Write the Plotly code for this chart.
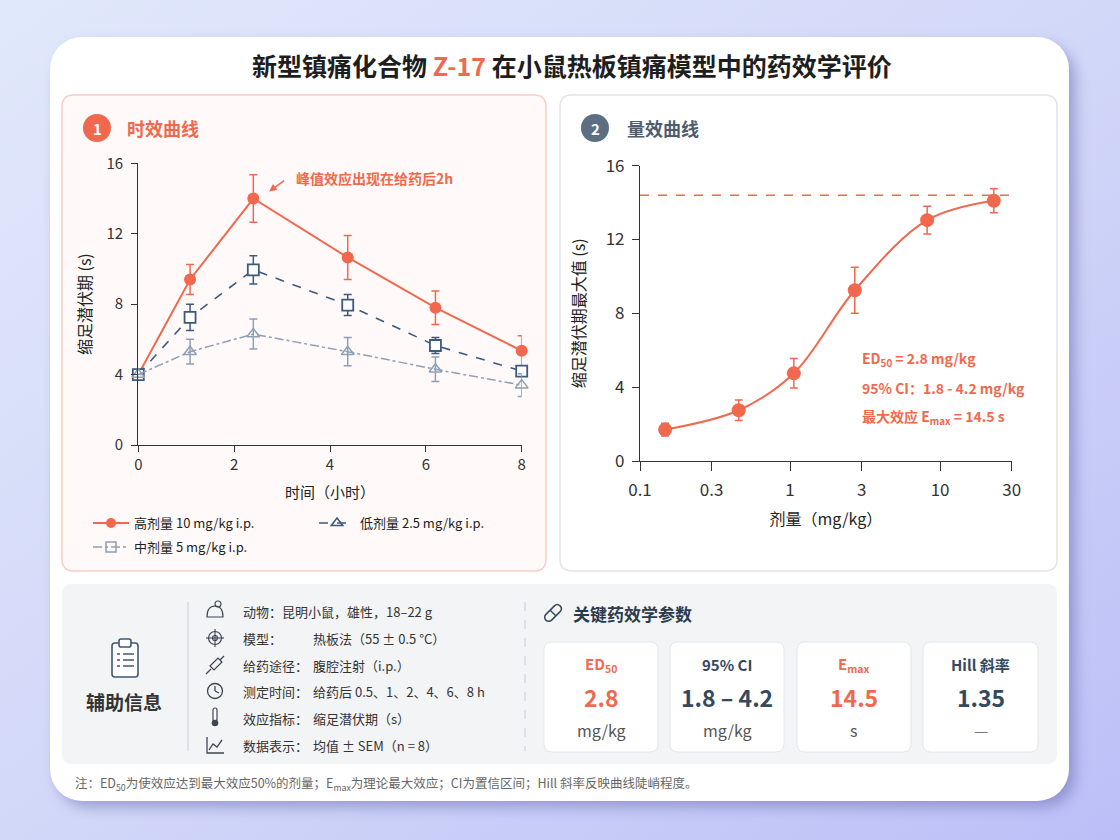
import base64
import plotly.graph_objects as go

W, H = 1120, 840
FONT = "Noto Sans CJK SC, Noto Sans, sans-serif"
RED = "#F0694F"
NAVY = "#3C5A80"
LIGHT = "#8EA0B4"
GREY_TXT = "#333333"

# ---------------- data ----------------
time_h = [0, 1.08, 2.4, 4.37, 6.2, 8]
high_mean = [4.0, 9.4, 14.0, 10.65, 7.8, 5.35]
high_sem = [0.0, 0.85, 1.35, 1.25, 0.95, 0.85]
mid_mean = [4.0, 7.25, 9.95, 7.95, 5.65, 4.2]
mid_sem = [0.0, 0.75, 0.8, 0.6, 0.45, 0.3]
low_mean = [4.0, 5.3, 6.3, 5.3, 4.3, 3.4]
low_sem = [0.0, 0.7, 0.85, 0.8, 0.7, 0.65]

dose = [0.147, 0.455, 1.06, 2.7, 8.2, 22.8]
resp_mean = [1.7, 2.75, 4.75, 9.25, 13.05, 14.1]
resp_sem = [0.35, 0.55, 0.8, 1.25, 0.75, 0.65]
emax_level = 14.4
emax_span = [0.1, 31]

time_ticks = [0, 2, 4, 6, 8]
time_minor = [1, 3, 5, 7]
lat_ticks = [0, 4, 8, 12, 16]
lat_minor = [2, 6, 10, 14]
dose_ticks = [0.1, 0.3, 1, 3, 10, 30]
dose_ticklabels = ["0.1", "0.3", "1", "3", "10", "30"]
dose_minor = [0.2, 0.4, 0.5, 0.6, 0.7, 0.8, 0.9, 2, 4, 5, 6, 7, 8, 9, 20]

legend_names = ["高剂量 10 mg/kg i.p.", "低剂量 2.5 mg/kg i.p.", "中剂量 5 mg/kg i.p."]

params = [
    ("ED<sub>50</sub>", "2.8", "mg/kg", RED),
    ("95% CI", "1.8 – 4.2", "mg/kg", "#34495E"),
    ("E<sub>max</sub>", "14.5", "s", RED),
    ("Hill 斜率", "1.35", "—", "#34495E"),
]
info_rows = [
    ("动物：昆明小鼠，雄性，18–22 g", None),
    ("模型：", "热板法（55 ± 0.5 °C）"),
    ("给药途径：", "腹腔注射（i.p.）"),
    ("测定时间：", "给药后 0.5、1、2、4、6、8 h"),
    ("效应指标：", "缩足潜伏期（s）"),
    ("数据表示：", "均值 ± SEM（n = 8）"),
]

# ---------------- helpers ----------------
def P(x, y):
    return f"{x / W:.5f},{1 - y / H:.5f}"

def rrpath(x0, y0, x1, y1, r):
    return (f"M{P(x0 + r, y0)} L{P(x1 - r, y0)} Q{P(x1, y0)} {P(x1, y0 + r)} "
            f"L{P(x1, y1 - r)} Q{P(x1, y1)} {P(x1 - r, y1)} L{P(x0 + r, y1)} "
            f"Q{P(x0, y1)} {P(x0, y1 - r)} L{P(x0, y0 + r)} Q{P(x0, y0)} {P(x0 + r, y0)} Z")

shapes = []
annotations = []

def add_rr(x0, y0, x1, y1, r, fill, line_color=None, lw=1.0, layer="below"):
    shapes.append(dict(type="path", path=rrpath(x0, y0, x1, y1, r), xref="paper", yref="paper",
                       fillcolor=fill, line=dict(color=line_color or fill, width=lw if line_color else 0),
                       layer=layer))

def add_circle(cx, cy, r, fill="rgba(0,0,0,0)", line_color=None, lw=1.3, layer="above"):
    shapes.append(dict(type="circle", xref="paper", yref="paper",
                       x0=(cx - r) / W, x1=(cx + r) / W, y0=1 - (cy + r) / H, y1=1 - (cy - r) / H,
                       fillcolor=fill, line=dict(color=line_color or fill, width=lw if line_color else 0),
                       layer=layer))

def add_line(x0, y0, x1, y1, color, lw=1.3, dash="solid", layer="above"):
    shapes.append(dict(type="line", xref="paper", yref="paper", x0=x0 / W, x1=x1 / W,
                       y0=1 - y0 / H, y1=1 - y1 / H, line=dict(color=color, width=lw, dash=dash),
                       layer=layer))

def add_path(d, color, lw=1.3, fill="rgba(0,0,0,0)", layer="above"):
    shapes.append(dict(type="path", path=d, xref="paper", yref="paper", fillcolor=fill,
                       line=dict(color=color, width=lw), layer=layer))

def txt(x, y, text, size=13, color=GREY_TXT, xanchor="left", yanchor="middle"):
    annotations.append(dict(x=x / W, y=1 - y / H, xref="paper", yref="paper", text=text,
                            showarrow=False, font=dict(family=FONT, size=size, color=color),
                            xanchor=xanchor, yanchor=yanchor, borderpad=0))

# ---------------- background (gradient + card shadow) ----------------
svg = """<svg xmlns="http://www.w3.org/2000/svg" width="1120" height="840" viewBox="0 0 1120 840">
<defs>
<linearGradient id="g" x1="0" y1="0" x2="1" y2="1">
<stop offset="0" stop-color="#e0e8fb"/><stop offset="0.5" stop-color="#d2d8f8"/><stop offset="1" stop-color="#bcbff7"/>
</linearGradient>
<filter id="s" x="-5%" y="-5%" width="115%" height="115%"><feGaussianBlur stdDeviation="7"/></filter>
</defs>
<rect width="1120" height="840" fill="url(#g)"/>
<rect x="57" y="45" width="1018" height="762" rx="32" fill="#6a6cae" opacity="0.55" filter="url(#s)"/>
<rect x="50" y="37" width="1019" height="764" rx="32" fill="#ffffff"/>
</svg>"""
bg_src = "data:image/svg+xml;base64," + base64.b64encode(svg.encode("utf-8")).decode("ascii")

# panels
add_rr(62, 95, 546, 571, 12, "#FFFAF9", "#F7CEC4", 1.5)
add_rr(560, 95, 1057, 571, 12, "#FFFFFF", "#E1E4E8", 1.5)
add_rr(62, 584, 1057, 764, 10, "#F3F4F6")
for (x0, x1) in [(544, 658), (670, 784), (797, 911), (923, 1038)]:
    add_rr(x0, 642, x1, 752, 8, "#FFFFFF", "#E4E6EA", 1.0)

# badges
add_circle(97, 128, 14, fill=RED, layer="below")
add_circle(595, 128, 14, fill="#5E6E82", layer="below")

# dividers
add_line(188, 602, 188, 751, "#CFD3D8", 1.2, layer="below")
add_line(525, 602, 525, 751, "#CFD3D8", 1.2, dash="dash", layer="below")

# clipboard icon
IC = "#3F5870"
add_rr(112, 643, 138, 677, 3, "#FFFFFF", IC, 1.6, layer="above")
add_rr(119, 639, 131, 647, 2, "#FFFFFF", IC, 1.6, layer="above")
for yy in (654, 660, 666):
    add_line(117, yy, 120, yy, IC, 1.5)
    add_line(123, yy, 134, yy, IC, 1.5)

# small row icons
RI = "#3E4654"
add_path(f"M{P(207,617)} Q{P(207,606)} {P(215,606)} Q{P(223,606)} {P(223,617)} Z", RI, 1.2)
add_circle(218, 604, 3, line_color=RI, lw=1.1)
add_circle(215, 638, 6.5, line_color=RI, lw=1.2)
add_circle(215, 638, 2.5, line_color=RI, lw=1.2)
add_line(206, 638, 224, 638, RI, 1.1)
add_line(215, 629, 215, 647, RI, 1.1)
add_path(f"M{P(210,666)} L{P(218,658)} L{P(222,662)} L{P(214,670)} Z", RI, 1.2)
add_line(211, 669, 206, 674, RI, 1.3)
add_line(220, 660, 224, 656, RI, 1.3)
add_circle(215, 691, 7.5, line_color=RI, lw=1.3)
add_line(215, 691, 215, 686, RI, 1.3)
add_line(215, 691, 219, 693, RI, 1.3)
add_rr(213, 708, 217, 721, 2, "#FFFFFF", RI, 1.2, layer="above")
add_circle(215, 723, 3.3, fill=RI)
add_path(f"M{P(207,737)} L{P(207,753)} L{P(224,753)}", RI, 1.3)
add_path(f"M{P(209,750)} L{P(213,744)} L{P(217,747)} L{P(222,740)}", RI, 1.3)
# pill icon
cx, cy = 553, 613
add_path(f"M{P(cx-7.1,cy+1.4)} L{P(cx+1.4,cy-7.1)} C{P(cx+5.2,cy-10.9)} {P(cx+10.9,cy-5.2)} {P(cx+7.1,cy-1.4)} "
         f"L{P(cx-1.4,cy+7.1)} C{P(cx-5.2,cy+10.9)} {P(cx-10.9,cy+5.2)} {P(cx-7.1,cy+1.4)} Z", "#34495E", 1.5)
add_line(cx - 2.8, cy - 2.8, cx + 2.8, cy + 2.8, "#34495E", 1.5)

# ---------------- texts ----------------
txt(572, 65, '<b>新型镇痛化合物 <span style="color:%s">Z-17</span> 在小鼠热板镇痛模型中的药效学评价</b>' % RED,
    size=25, color="#1E1E1E", xanchor="center")
txt(97, 128.5, "<b>1</b>", 15, "#FFFFFF", xanchor="center")
txt(126, 128, "<b>时效曲线</b>", 18, RED)
txt(595, 128.5, "<b>2</b>", 15, "#FFFFFF", xanchor="center")
txt(626, 128, "<b>量效曲线</b>", 18, "#4D5D70")
txt(295, 178, "<b>峰值效应出现在给药后2h</b>", 14, RED)

txt(861, 359, "<b>ED<sub>50</sub> = 2.8 mg/kg</b>", 14, RED)
txt(861, 388, "<b>95% CI：1.8 - 4.2 mg/kg</b>", 14, RED)
txt(861, 417, "<b>最大效应 E<sub>max</sub> = 14.5 s</b>", 14, RED)

txt(124, 701, "<b>辅助信息</b>", 19, "#333333", xanchor="center")
row_y = [611, 638, 665, 691, 718, 745]
for (lab, val), yy in zip(info_rows, row_y):
    txt(242, yy, lab, 13, "#333333")
    if val:
        txt(312, yy, val, 13, "#333333")

txt(572, 613, "<b>关键药效学参数</b>", 17, "#2B3A4D")
for (lab, val, unit, col), xc in zip(params, [601, 727, 854, 980.5]):
    txt(xc, 664, "<b>%s</b>" % lab, 15, col, xanchor="center")
    txt(xc, 697, "<b>%s</b>" % val, 23, col, xanchor="center")
    txt(xc, 730, unit, 16, "#555555" if unit != "—" else "#777777", xanchor="center")

txt(74, 783, "注：ED<sub>50</sub>为使效应达到最大效应50%的剂量；E<sub>max</sub>为理论最大效应；CI为置信区间；Hill 斜率反映曲线陡峭程度。",
    12.5, "#666666")

# ---------------- traces ----------------
fig = go.Figure()

def eb(arr, color):
    return dict(type="data", array=arr, visible=True, color=color, thickness=1.5, width=4)

fig.add_trace(go.Scatter(x=time_h, y=high_mean, mode="lines+markers", xaxis="x", yaxis="y",
                         line=dict(color=RED, width=2),
                         marker=dict(symbol="circle", size=12, color=RED),
                         error_y=eb(high_sem, RED), showlegend=False, cliponaxis=False))
fig.add_trace(go.Scatter(x=time_h, y=mid_mean, mode="lines+markers", xaxis="x", yaxis="y",
                         line=dict(color=NAVY, width=1.6, dash="dash"),
                         marker=dict(symbol="square", size=11, color="#FFFFFF", line=dict(color=NAVY, width=1.8)),
                         error_y=eb(mid_sem, NAVY), showlegend=False, cliponaxis=False))
fig.add_trace(go.Scatter(x=time_h, y=low_mean, mode="lines+markers", xaxis="x", yaxis="y",
                         line=dict(color=LIGHT, width=1.5, dash="dashdot"),
                         marker=dict(symbol="triangle-up-open", size=11, color=LIGHT, line=dict(width=1.5)),
                         error_y=eb(low_sem, LIGHT), showlegend=False, cliponaxis=False))

# legend entries (as shown in the reference)
fig.add_trace(go.Scatter(x=[None], y=[None], mode="lines+markers", xaxis="x", yaxis="y", name=legend_names[0],
                         line=dict(color=RED, width=2), marker=dict(symbol="circle", size=10, color=RED),
                         legend="legend"))
fig.add_trace(go.Scatter(x=[None], y=[None], mode="lines+markers", xaxis="x", yaxis="y", name=legend_names[1],
                         line=dict(color=NAVY, width=1.6, dash="dash"),
                         marker=dict(symbol="triangle-up-open", size=10, color=NAVY, line=dict(width=1.6)),
                         legend="legend"))
fig.add_trace(go.Scatter(x=[None], y=[None], mode="lines+markers", xaxis="x", yaxis="y", name=legend_names[2],
                         line=dict(color=LIGHT, width=1.5, dash="dashdot"),
                         marker=dict(symbol="square-open", size=10, color=LIGHT, line=dict(width=1.5)),
                         legend="legend2"))

# dose-response
fig.add_trace(go.Scatter(x=emax_span, y=[emax_level, emax_level], mode="lines", xaxis="x2", yaxis="y2",
                         line=dict(color=RED, width=1.5, dash="dash"), showlegend=False, cliponaxis=False,
                         hoverinfo="skip"))
fig.add_trace(go.Scatter(x=dose, y=resp_mean, mode="lines", xaxis="x2", yaxis="y2",
                         line=dict(color=RED, width=2, shape="spline", smoothing=1.0), showlegend=False))
fig.add_trace(go.Scatter(x=dose, y=resp_mean, mode="markers", xaxis="x2", yaxis="y2",
                         marker=dict(symbol="circle", size=14, color=RED),
                         error_y=eb(resp_sem, RED), showlegend=False, cliponaxis=False))

# arrow for peak annotation
annotations.append(dict(x=2.73, y=14.4, xref="x", yref="y", ax=18, ay=-13, text=" ", showarrow=True,
                        arrowhead=2, arrowsize=1, arrowwidth=1.5, arrowcolor=RED))

axis_common = dict(showgrid=False, zeroline=False, showline=True, linecolor="#333333", linewidth=1.2,
                   ticks="outside", tickcolor="#333333", tickwidth=1.2, mirror=False, automargin=False)
minor_common = dict(showgrid=False, zeroline=False, showline=False, ticks="outside", tickcolor="#333333",
                    tickwidth=1.0, showticklabels=False, automargin=False, tickmode="array")

fig.update_layout(
    width=W, height=H, autosize=False, margin=dict(l=0, r=0, t=0, b=0, pad=0, autoexpand=False),
    paper_bgcolor="#D6DBF8", plot_bgcolor="rgba(0,0,0,0)",
    font=dict(family=FONT, color=GREY_TXT),
    images=[dict(source=bg_src, xref="paper", yref="paper", x=0, y=1, sizex=1, sizey=1,
                 xanchor="left", yanchor="top", sizing="stretch", layer="below")],
    shapes=shapes, annotations=annotations,
    xaxis=dict(domain=[138.3 / W, 521.7 / W], anchor="y", range=[0, 8], tickvals=time_ticks,
               ticklen=6, tickfont=dict(size=15, color=GREY_TXT),
               title=dict(text="时间（小时）", font=dict(size=15, color="#222222"), standoff=14),
               **axis_common),
    yaxis=dict(domain=[1 - 445 / H, 1 - 163.3 / H], anchor="x", range=[0, 16], tickvals=lat_ticks,
               ticklen=6, ticklabelstandoff=5, tickfont=dict(size=15, color=GREY_TXT),
               title=dict(text="缩足潜伏期 (s)", font=dict(size=16, color="#222222"), standoff=10),
               **axis_common),
    xaxis2=dict(domain=[640 / W, 1011.7 / W], anchor="y2", type="log", range=[-1, 1.4771],
                tickmode="array", tickvals=dose_ticks, ticktext=dose_ticklabels,
                ticklen=9, ticklabelstandoff=4, tickfont=dict(size=17, color=GREY_TXT),
                title=dict(text="剂量（mg/kg）", font=dict(size=16, color="#222222"), standoff=14),
                **axis_common),
    yaxis2=dict(domain=[1 - 461 / H, 1 - 165.7 / H], anchor="x2", range=[0, 16], tickvals=lat_ticks,
                ticklen=7, ticklabelstandoff=4, tickfont=dict(size=17, color=GREY_TXT),
                title=dict(text="缩足潜伏期最大值 (s)", font=dict(size=16, color="#222222"), standoff=16),
                **axis_common),
    # minor tick marks (no labels)
    xaxis3=dict(overlaying="x", anchor="y", side="bottom", range=[0, 8], tickvals=time_minor, ticklen=3,
                **minor_common),
    yaxis3=dict(overlaying="y", anchor="x", side="left", range=[0, 16], tickvals=lat_minor, ticklen=3,
                **minor_common),
    xaxis4=dict(overlaying="x2", anchor="y2", side="bottom", type="log", range=[-1, 1.4771],
                tickvals=dose_minor, ticklen=5, **minor_common),
    yaxis4=dict(overlaying="y2", anchor="x2", side="left", range=[0, 16], tickvals=lat_minor, ticklen=4,
                **minor_common),
    legend=dict(orientation="h", x=88 / W, y=1 - 508 / H, xanchor="left", yanchor="top",
                bgcolor="rgba(0,0,0,0)", font=dict(size=13, color="#222222"),
                entrywidth=175, entrywidthmode="pixels", itemwidth=36, tracegroupgap=0),
    legend2=dict(orientation="h", x=88 / W, y=1 - 532 / H, xanchor="left", yanchor="top",
                 bgcolor="rgba(0,0,0,0)", font=dict(size=13, color="#222222"), itemwidth=36),
)

fig.write_html("out.html", config={"displayModeBar": False},
               post_script="document.body.style.margin='0px';document.body.style.overflow='hidden';")
